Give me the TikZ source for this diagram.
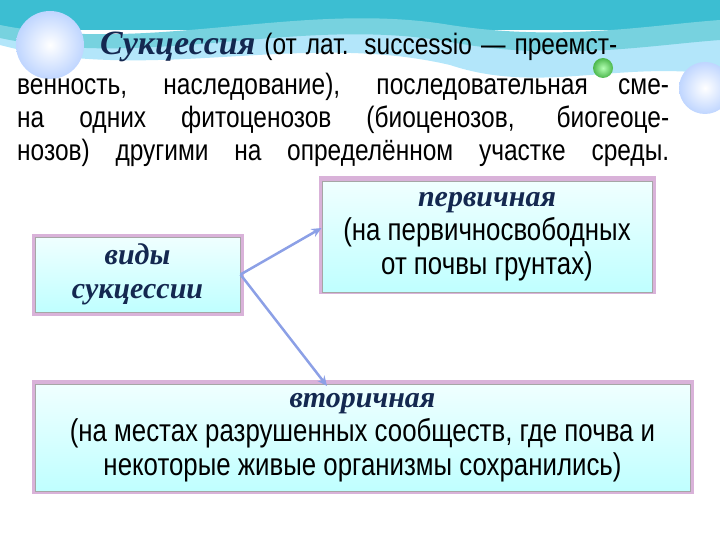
\documentclass[tikz,border=0pt]{standalone}
\usepackage{fontspec}
\setmainfont{Liberation Sans}
\newfontfamily\serifbi{Liberation Serif}
\newfontfamily\narrow{Liberation Sans}[FakeStretch=0.82]
\newfontfamily\pnarrow{Liberation Sans}[FakeStretch=0.83]
\definecolor{navy}{RGB}{20,40,80}
\definecolor{band}{RGB}{60,190,210}
\definecolor{arr}{RGB}{140,160,230}
\newcommand{\hdr}{\serifbi\bfseries\itshape\color{navy}\fontsize{30}{31}\selectfont}
\usetikzlibrary{arrows.meta}
\tikzset{
  box/.style={draw=gray!70, line width=1pt, top color=cyan!6, bottom color=cyan!25,
    inner sep=0pt, align=center, font=\narrow\fontsize{31.5}{32}\selectfont},
  glow/.style={draw=violet!30, line width=7pt},
  conn/.style={draw=arr, line width=2.5pt, -{Stealth[length=10pt,width=9pt]}},
  para/.style={anchor=base west, inner sep=0pt, font=\pnarrow\fontsize{29.5}{30}\selectfont}
}
\begin{document}
\begin{tikzpicture}[x=1pt,y=-1pt]
\useasboundingbox (0,0) rectangle (720,540);
% top band
\fill[band] (0,0) rectangle (720,30);
\fill[cyan!30] (0,30) .. controls (150,65) and (300,10) .. (450,35) .. controls (560,52) and (650,35) .. (720,30) -- (720,75) .. controls (620,60) and (540,95) .. (450,65) .. controls (300,30) and (150,85) .. (0,45) -- cycle;
\fill[band!70] (0,25) .. controls (150,55) and (300,0) .. (450,25) .. controls (560,42) and (650,25) .. (720,20) -- (720,40) .. controls (650,45) and (560,62) .. (450,42) .. controls (300,15) and (150,70) .. (0,38) -- cycle;
\shade[inner color=white, outer color=cyan!35!blue!25] (50,45) circle (34);
\shade[inner color=white, outer color=cyan!35!blue!25] (705,88) circle (26);
\shade[inner color=green!30, outer color=green!60!black!70] (603,68) circle (10);
% paragraph
\node[para] (l1) at (100,55) {\makebox[517pt][s]{{\serifbi\bfseries\itshape\color{navy}\fontsize{34}{38}\selectfont Сукцессия} (от лат. successio — преемст-}};
\node[para] (l2) at (17,95) {\makebox[652pt][s]{венность, наследование), последовательная сме-}};
\node[para] (l3) at (17,128) {\makebox[652pt][s]{на одних фитоценозов (биоценозов, биогеоце-}};
\node[para] (l4) at (17,161) {\makebox[652pt][s]{нозов) другими на определённом участке среды.}};
% boxes
\draw[glow] (35,237) rectangle (240,312);
\draw[glow] (322,180) rectangle (652,290);
\draw[glow] (35,383) rectangle (690,490);
\node[box, minimum width=205pt, minimum height=75pt] (vid) at (137.5,274.5) {{\hdr виды}\\[2pt]{\hdr сукцессии}};
\node[box, minimum width=330pt, minimum height=110pt] (perv) at (487,237) {{\hdr первичная}\\[2pt](на первичносвободных\\[2pt]от почвы грунтах)};
\node[box, minimum width=655pt, minimum height=107pt] (vtor) at (362.5,438) {{\hdr вторичная}\\[2pt](на местах разрушенных сообществ, где почва и\\[2pt]некоторые живые организмы сохранились)};
\coordinate (o) at (vid.east);
\draw[conn] (o) -- (perv.west|-0,228);
\draw[conn] (o) -- (327,386);
\end{tikzpicture}
\end{document}
